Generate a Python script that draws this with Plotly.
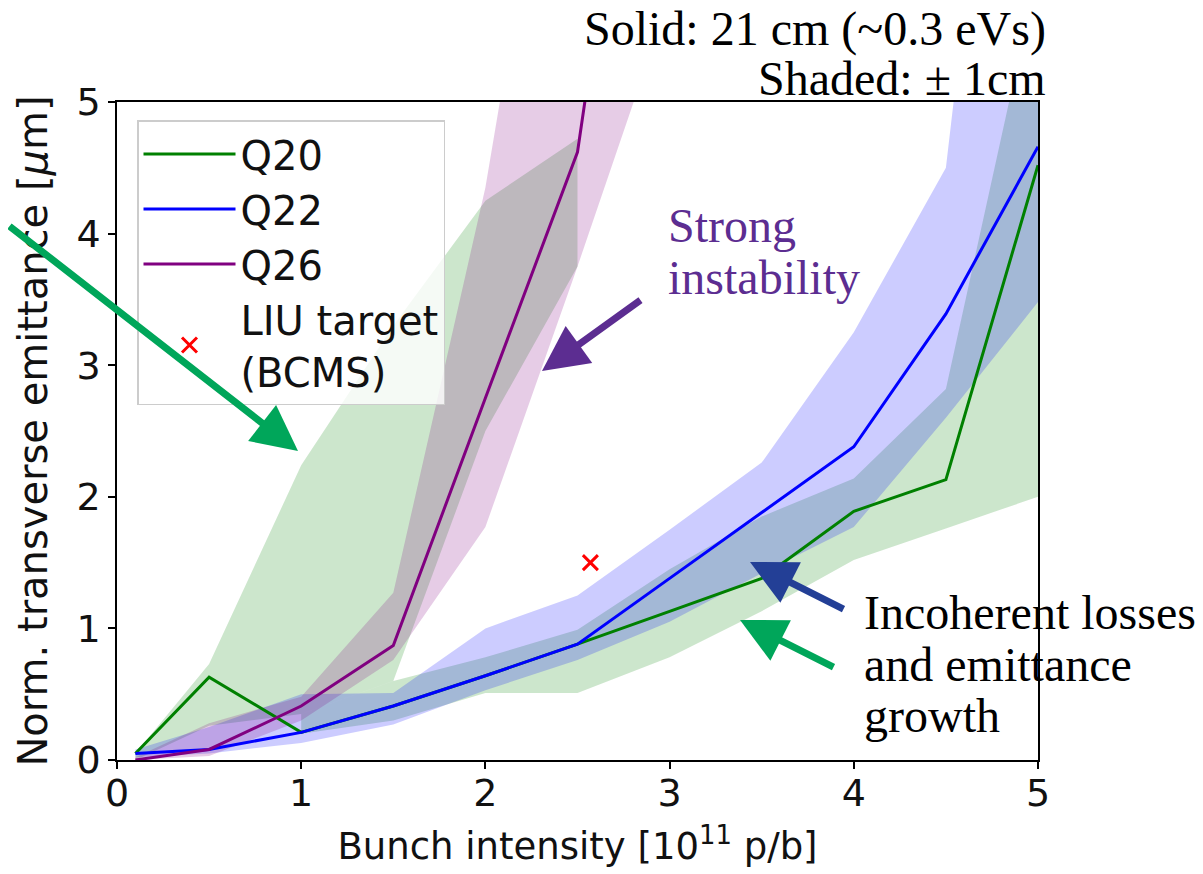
import plotly.graph_objects as go

# ---------------- data ----------------
intensity = [0.1, 0.5, 1.0, 1.5, 2.0, 2.5, 3.0, 3.5, 4.0, 4.5, 5.0]

q20 = [0.05, 0.63, 0.21, 0.41, 0.64, 0.88, 1.13, 1.38, 1.89, 2.13, 4.52]
q22 = [0.05, 0.08, 0.21, 0.41, 0.64, 0.88, 1.38, 1.88, 2.38, 3.39, 4.66]
q26 = [0.00, 0.08, 0.41, 0.87, 2.75, 4.62, 9.40]          # first 7 intensities

# shaded +-1 cm envelopes
q22_hi = [0.08, 0.25, 0.50, 0.51, 1.00, 1.25, 1.75, 2.26, 3.25, 4.50, 10.5]
q22_lo = [0.02, 0.05, 0.13, 0.27, 0.53, 0.76, 1.05, 1.42, 1.77, 2.60, 3.48]

q26_hi = [0.02, 0.28, 0.48, 1.27, 4.35, 8.50, 14.0]
q26_lo = [0.00, 0.03, 0.30, 0.76, 1.77, 3.75, 5.80]

# Q20 envelope: upper lobe (first 6 intensities) and lower band (from 1.0 on)
q20_hi_a = [0.05, 0.73, 2.24, 3.30, 4.25, 4.72]
q20_lo_a = [0.00, 0.26, 0.35, 0.60, 2.50, 3.75]
q20_hi_b = [0.35, 0.60, 0.78, 0.99, 1.45, 1.85, 2.14, 2.82, 6.00]
q20_lo_b = [0.20, 0.30, 0.51, 0.51, 0.78, 1.13, 1.52, 1.76, 2.00]

liu_x = [2.57]
liu_y = [1.50]

x_ticks = [0, 1, 2, 3, 4, 5]
y_ticks = [0, 1, 2, 3, 4, 5]

# ---------------- layout helpers ----------------
OFF = 8                      # page body margin
W, H = 1203 - OFF, 874 - OFF
L, T = 117 - OFF, 102 - OFF
PW, PH = 921, 658
R = W - L - PW
B = H - T - PH


def px(xs):
    """screen x pixel -> paper coordinate"""
    return (xs - OFF - L) / PW


def py(ys):
    """screen y pixel -> paper coordinate"""
    return (T + PH - (ys - OFF)) / PH


GREEN = "#008000"
BLUE = "#0000ff"
PURPLE = "#800080"


def band(xs, lo, hi, color):
    return go.Scatter(
        x=list(xs) + list(xs)[::-1],
        y=list(hi) + list(lo)[::-1],
        fill="toself", fillcolor=color, mode="lines",
        line=dict(width=0, color="rgba(0,0,0,0)"),
        showlegend=False, hoverinfo="skip",
    )


fig = go.Figure()
fig.add_trace(band(intensity[:len(q20_hi_a)], q20_lo_a, q20_hi_a, "rgba(0,128,0,0.2)"))
fig.add_trace(band(intensity[2:2 + len(q20_hi_b)], q20_lo_b, q20_hi_b, "rgba(0,128,0,0.2)"))
fig.add_trace(band(intensity, q22_lo, q22_hi, "rgba(0,0,255,0.2)"))
fig.add_trace(band(intensity[:len(q26_hi)], q26_lo, q26_hi, "rgba(128,0,128,0.2)"))

fig.add_trace(go.Scatter(x=intensity, y=q20, mode="lines", name="Q20",
                         line=dict(color=GREEN, width=3)))
fig.add_trace(go.Scatter(x=intensity, y=q22, mode="lines", name="Q22",
                         line=dict(color=BLUE, width=3)))
fig.add_trace(go.Scatter(x=intensity[:len(q26)], y=q26, mode="lines", name="Q26",
                         line=dict(color=PURPLE, width=3)))
fig.add_trace(go.Scatter(x=liu_x, y=liu_y, mode="markers", name="LIU target<br>(BCMS)",
                         marker=dict(symbol="x-thin", size=15, color="red",
                                     line=dict(color="red", width=3))))

TXT = "#111111"
axis_common = dict(
    showgrid=False, zeroline=False, showline=True, linecolor="black", linewidth=1.5,
    mirror=True, ticks="outside", ticklen=7, tickwidth=1.5, tickcolor="black",
    tickfont=dict(family="DejaVu Sans", size=38, color=TXT),
)
fig.update_xaxes(range=[0, 5], tickvals=x_ticks, ticklabelstandoff=-8, **axis_common,
                 title=dict(text="Bunch intensity [10<sup>11</sup> p/b]",
                            font=dict(family="DejaVu Sans", size=37, color=TXT), standoff=19))
fig.update_yaxes(range=[0, 5], tickvals=y_ticks, **axis_common,
                 title=dict(text="Norm. transverse emittance [<i>μ</i>m]",
                            font=dict(family="DejaVu Sans", size=40, color=TXT), standoff=16))

SERIF = "Liberation Serif"
ann = []


def text(s, xs, ys, anchor, color="black"):
    ann.append(dict(text=s, x=px(xs), y=py(ys), xref="paper", yref="paper",
                    xanchor=anchor, yanchor="middle", showarrow=False,
                    font=dict(family=SERIF, size=48, color=color)))


text("Solid: 21 cm (~0.3 eVs)", 1048, 29, "right")
text("Shaded: ± 1cm", 1048, 78, "right")
text("Strong", 666, 225, "left", "#5c2d91")
text("instability", 666, 277, "left", "#5c2d91")
text("Incoherent losses", 862, 612, "left")
text("and emittance", 862, 664, "left")
text("growth", 862, 715, "left")


def arrow(tail, tip, color):
    ann.append(dict(text="", x=px(tip[0]), y=py(tip[1]), xref="paper", yref="paper",
                    ax=tail[0] - tip[0], ay=tail[1] - tip[1], showarrow=True,
                    arrowhead=2, arrowsize=1.3, arrowwidth=7, arrowcolor=color))


arrow((-10, 225), (298, 451), "#00a65a")
arrow((642, 299), (542, 371), "#5c2d91")
arrow((845, 610), (750, 562), "#233f96")
arrow((835, 668), (740, 620), "#00a65a")

fig.update_layout(
    width=W, height=H,
    margin=dict(l=L, r=R, t=T, b=B, autoexpand=False),
    paper_bgcolor="white", plot_bgcolor="white",
    annotations=ann,
    legend=dict(x=px(137), y=py(120), xanchor="left", yanchor="top",
                bgcolor="rgba(255,255,255,0.8)", bordercolor="#cccccc", borderwidth=1.5,
                font=dict(family="DejaVu Sans", size=40, color=TXT), itemwidth=92),
)

fig.write_html("out.html")
